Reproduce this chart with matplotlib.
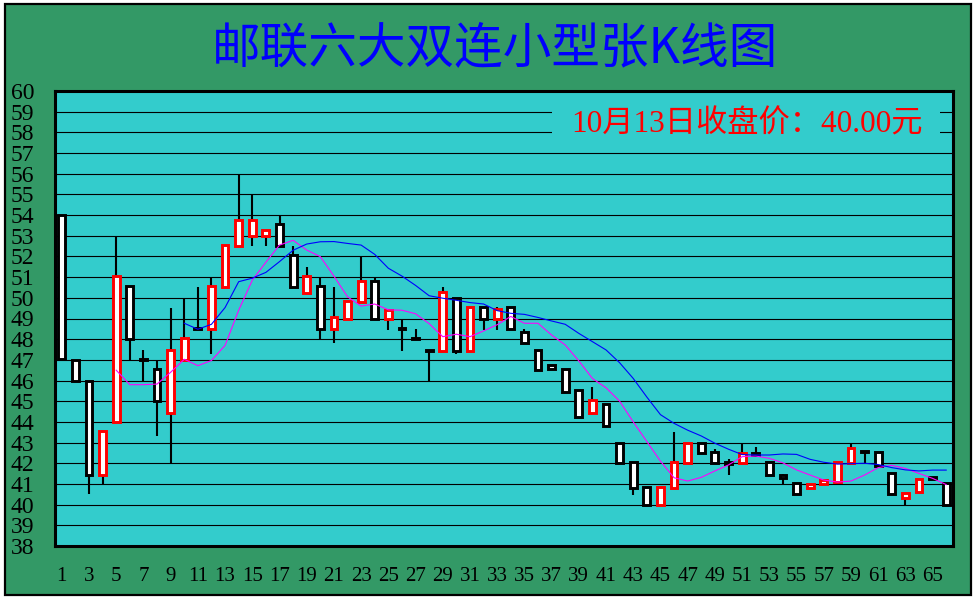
import numpy as np
import matplotlib.pyplot as plt
from matplotlib.patches import Rectangle

# daily prices
days = np.arange(1, 67)
opens = [54.0, 47.0, 46.0, 41.45, 44.0, 50.55, 47.05, 46.55, 44.45, 47.0,
         48.55, 48.5, 50.5, 52.5, 53.0, 53.0, 53.55, 52.05, 50.25, 50.55,
         48.5, 49.0, 49.8, 50.8, 49.0, 48.55, 48.05, 47.5, 47.45, 50.0,
         47.45, 49.55, 49.0, 49.55, 48.35, 47.5, 46.75, 46.55, 45.55, 44.45,
         44.85, 43.0, 42.05, 40.85, 40.0, 40.8, 42.0, 43.0, 42.55, 42.05,
         42.0, 42.5, 42.05, 41.45, 41.05, 40.8, 41.0, 41.1, 42.0, 42.6,
         42.55, 41.55, 40.3, 40.6, 41.35, 41.05]
highs = [54.0, 47.0, 46.0, 43.55, 52.95, 50.55, 47.5, 47.0, 49.5, 50.0,
         50.5, 51.0, 52.55, 56.0, 55.0, 53.3, 54.0, 52.5, 51.5, 51.0,
         50.5, 49.85, 52.0, 51.0, 49.4, 49.0, 48.5, 47.5, 50.5, 50.0,
         49.55, 49.55, 49.55, 49.55, 48.5, 47.5, 46.75, 46.55, 45.55, 45.7,
         44.85, 43.0, 42.05, 40.85, 40.85, 43.5, 43.0, 43.0, 42.7, 42.2,
         42.95, 42.8, 42.05, 41.5, 41.05, 41.0, 41.2, 42.05, 42.95, 42.6,
         42.55, 41.55, 40.55, 41.25, 41.35, 41.05]
lows = [47.05, 46.0, 40.5, 41.0, 44.0, 47.0, 46.0, 43.3, 42.0, 47.0,
        48.45, 47.3, 50.5, 52.5, 52.5, 52.5, 52.5, 50.5, 50.25, 48.0,
        47.8, 49.0, 49.8, 49.0, 48.45, 47.45, 48.0, 46.0, 47.45, 47.3,
        47.45, 48.45, 48.45, 48.5, 47.8, 46.5, 46.55, 45.45, 44.25, 44.45,
        43.8, 42.0, 40.45, 40.0, 40.0, 40.8, 42.0, 42.5, 42.0, 41.45,
        42.0, 42.4, 41.45, 41.0, 40.5, 40.8, 41.0, 41.1, 42.0, 42.0,
        41.85, 40.5, 40.0, 40.6, 41.25, 40.0]
closes = [47.05, 46.0, 41.45, 43.55, 51.05, 48.0, 47.0, 45.0, 47.5, 48.05,
          48.5, 50.55, 52.55, 53.75, 53.75, 53.3, 52.5, 50.5, 51.05, 48.5,
          49.05, 49.85, 50.8, 49.0, 49.4, 48.5, 48.0, 47.45, 50.3, 47.45,
          49.55, 49.0, 49.45, 48.5, 47.8, 46.5, 46.55, 45.45, 44.25, 45.05,
          43.8, 42.0, 40.8, 40.0, 40.85, 42.05, 43.0, 42.5, 42.0, 41.95,
          42.5, 42.4, 41.45, 41.3, 40.5, 41.0, 41.2, 42.05, 42.75, 42.55,
          41.85, 40.5, 40.55, 41.25, 41.25, 40.0]

nan = np.nan
ma_short = [nan, nan, nan, nan, 46.5, 45.8, 45.8, 45.83, 46.4, 47.03,
            46.72, 46.97, 47.7, 49.4, 50.85, 51.72, 52.55, 52.78, 52.31, 51.99,
            51.05, 50.05, 49.6, 49.7, 49.42, 49.4, 49.23, 48.75, 48.12, 48.24,
            48.12, 48.4, 48.7, 49.1, 48.77, 48.77, 48.2, 47.72, 46.95, 46.1,
            45.65, 45.0, 44.0, 43.05, 42.1, 41.3, 41.14, 41.32, 41.63, 41.92,
            42.32, 42.35, 42.24, 42.02, 41.68, 41.43, 41.19, 41.09, 41.14, 41.43,
            41.79, 41.9, 41.75, 41.51, 41.27, 40.97]
ma_long = [nan, nan, nan, nan, nan, nan, nan, nan, nan, 48.77,
           48.48, 48.72, 49.53, 50.78, 50.95, 51.23, 51.75, 52.3, 52.6, 52.71,
           52.72, 52.63, 52.55, 52.1, 51.43, 51.05, 50.6, 50.1, 49.98, 49.88,
           49.77, 49.7, 49.38, 49.25, 49.2, 49.05, 48.88, 48.72, 48.28, 47.88,
           47.48, 46.86, 46.1, 45.2, 44.35, 43.93, 43.6, 43.32, 42.97, 42.68,
           42.42, 42.4, 42.4, 42.45, 42.43, 42.19, 42.05, 41.96, 41.98, 42.0,
           41.94, 41.79, 41.68, 41.63, 41.67, 41.67]

y_ticks = list(range(38, 61))
x_ticks = list(range(1, 66, 2))
title = '邮联六大双连小型张K线图'
note = '10月13日收盘价：40.00元'

plt.rcParams['font.family'] = ['Liberation Serif', 'Noto Sans CJK SC']

fig = plt.figure(figsize=(9.77, 6.0), dpi=100, facecolor='white')
fig.patches.append(Rectangle((5 / 977, 1 - 595 / 600), 966 / 977, 591 / 600,
                             transform=fig.transFigure, facecolor='#339966',
                             edgecolor='black', linewidth=1.6, zorder=-1))

ax = fig.add_axes([55 / 977, 54 / 600, 898 / 977, 455 / 600])
ax.set_facecolor('#33CCCC')

o = np.array(opens)
c = np.array(closes)
colors = ['red' if cc > oo else 'black' for oo, cc in zip(o, c)]

# wicks then bodies
ax.vlines(days, lows, highs, color='black', linewidth=1.5, zorder=2)
ax.bar(days, np.abs(c - o), bottom=np.minimum(o, c), width=0.5,
       facecolor='white', edgecolor=colors, linewidth=2.1, zorder=3)

ax.plot(days, ma_short, color='#FF00FF', linewidth=0.8, zorder=4)
ax.plot(days, ma_long, color='#0000FF', linewidth=0.8, zorder=4)

ax.set_xlim(0.5, 66.5)
ax.set_ylim(38, 60)
ax.set_yticks(y_ticks)
ax.set_yticklabels([str(v) for v in y_ticks], fontsize=17)
ax.set_xticks(x_ticks)
ax.set_xticklabels([str(v) for v in x_ticks], fontsize=15)
ax.tick_params(axis='y', length=0, pad=15)
ax.tick_params(axis='x', length=0, pad=15)
ax.set_axisbelow(True)
ax.grid(axis='y', color='black', linewidth=0.8)
for s in ax.spines.values():
    s.set_linewidth(2.2)
    s.set_color('black')

# box behind the closing price note
ax.add_patch(Rectangle((0.5535, 0.881), 0.432, 0.099, transform=ax.transAxes,
                       facecolor='#33CCCC', edgecolor='none', zorder=1))
ax.text(0.7706, 0.925, note, transform=ax.transAxes, ha='center', va='center',
        fontsize=22.5, color='red', zorder=5)

fig.text(495 / 977, 1 - 48 / 600, title, ha='center', va='center',
         fontsize=35, color='#0000FF', family=['Noto Sans CJK SC'])

fig.savefig('out.png', dpi=100)
